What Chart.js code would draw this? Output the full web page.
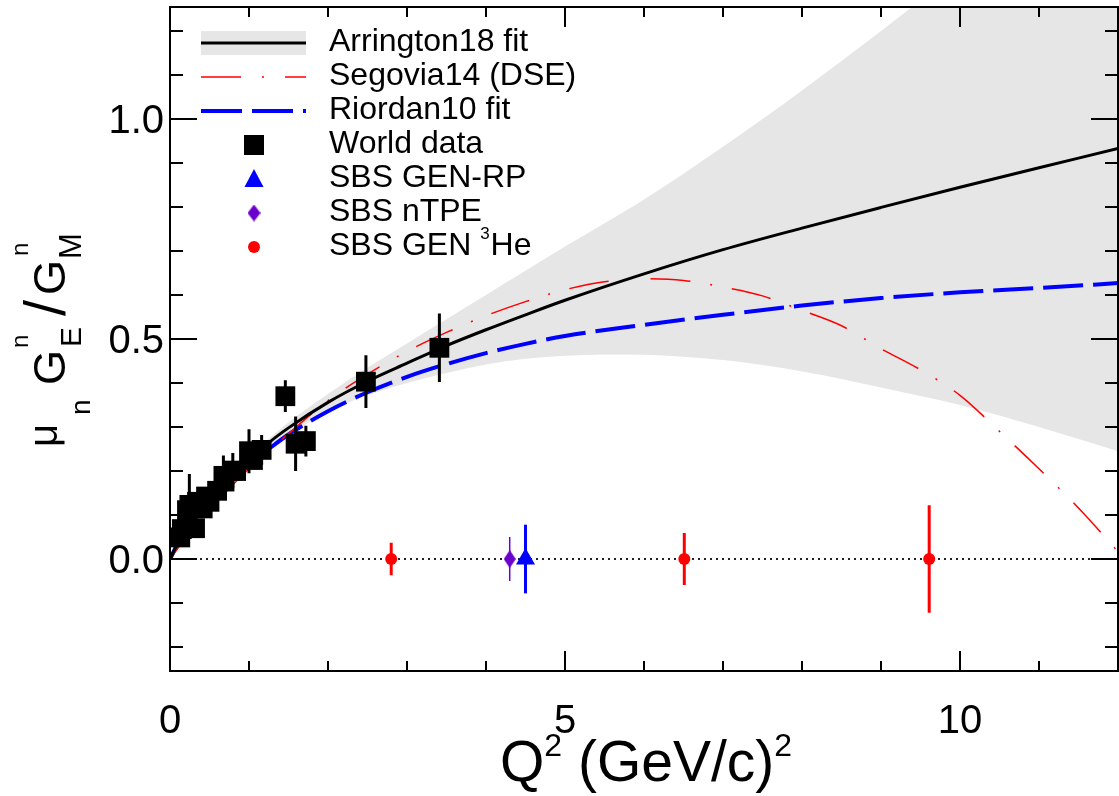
<!DOCTYPE html>
<html>
<head>
<meta charset="utf-8">
<script src="https://cdn.jsdelivr.net/npm/chart.js@4/dist/chart.umd.min.js"></script>
<style>
  html, body { margin: 0; padding: 0; background: #fff; }
  #wrap { width: 1119px; height: 796px; }
</style>
</head>
<body>
<div id="wrap"><canvas id="chart-ratio"></canvas></div>
<script>
/* ── Data ─────────────────────────────────────────────────── */
const fitQ2     = [0, 0.1, 0.25, 0.5, 0.75, 1, 1.25, 1.5, 2, 2.5, 3, 3.5, 4, 4.5, 5, 6, 7, 8, 9, 10, 11, 12];
const arrington = [0, 0.035, 0.075, 0.13, 0.18, 0.222, 0.264, 0.298, 0.356, 0.404, 0.445, 0.485, 0.521, 0.555, 0.588, 0.648, 0.703, 0.752, 0.799, 0.845, 0.889, 0.933];
const riordan   = [0, 0.035, 0.075, 0.128, 0.175, 0.215, 0.25, 0.283, 0.336, 0.379, 0.414, 0.443, 0.468, 0.489, 0.507, 0.532, 0.555, 0.576, 0.593, 0.606, 0.616, 0.627];

const bandQ2 = [0, 0.5, 1, 1.5, 2, 2.5, 3, 3.5, 4, 4.5, 5, 5.5, 6, 7, 8, 9, 10, 11, 12];
const bandHi = [0, 0.135, 0.232, 0.31, 0.375, 0.435, 0.49, 0.545, 0.6, 0.655, 0.71, 0.763, 0.817, 0.937, 1.065, 1.2, 1.34, 1.485, 1.635];
const bandLo = [0, 0.125, 0.212, 0.28, 0.335, 0.372, 0.4, 0.423, 0.442, 0.455, 0.462, 0.465, 0.464, 0.452, 0.426, 0.39, 0.35, 0.3, 0.245];

const segoviaQ2 = [0, 0.25, 0.5, 0.75, 1, 1.25, 1.5, 2, 2.5, 3, 3.5, 4, 4.5, 5, 5.5, 6, 6.5, 7, 7.5, 8, 8.5, 9, 9.5, 10, 10.5, 11, 11.5, 12];
const segovia   = [0, 0.06, 0.11, 0.16, 0.205, 0.245, 0.285, 0.36, 0.42, 0.472, 0.515, 0.553, 0.585, 0.612, 0.63, 0.637, 0.633, 0.618, 0.598, 0.565, 0.53, 0.478, 0.43, 0.372, 0.29, 0.205, 0.116, 0.017];

const worldQ2    = [0.13, 0.15, 0.215, 0.245, 0.317, 0.342, 0.414, 0.456, 0.50, 0.596, 0.676, 0.69, 0.795, 0.837, 1.00, 1.05, 1.16, 1.46, 1.59, 1.72, 2.48, 3.41];
const worldRatio = [0.049, 0.068, 0.111, 0.123, 0.070, 0.130, 0.115, 0.142, 0.130, 0.155, 0.189, 0.176, 0.201, 0.200, 0.245, 0.225, 0.248, 0.370, 0.262, 0.268, 0.403, 0.480];
const worldErr   = [0.015, 0.015, 0.02, 0.07, 0.02, 0.02, 0.02, 0.02, 0.02, 0.02, 0.046, 0.02, 0.04, 0.02, 0.05, 0.02, 0.034, 0.036, 0.062, 0.035, 0.060, 0.078];

const genRpQ2 = [4.5],  genRpRatio = [0],  genRpErr = [0.078];
const ntpeQ2  = [4.3],  ntpeRatio  = [0],  ntpeErr  = [0.05];
const he3Q2   = [2.8, 6.51, 9.61], he3Ratio = [0, 0, 0], he3Err = [0.037, 0.059, 0.122];

const zeroQ2 = [0, 12], zeroLine = [0, 0];

const xTicks = [0, 5, 10],     xTickLabels = ['0', '5', '10'];
const yTicks = [0, 0.5, 1.0],  yTickLabels = ['0.0', '0.5', '1.0'];

const legendLabels = ['Arrington18 fit', 'Segovia14 (DSE)', 'Riordan10 fit', 'World data', 'SBS GEN-RP', 'SBS nTPE', 'SBS GEN ^3He'];

/* ── Helpers ──────────────────────────────────────────────── */
const FONT = '"Liberation Sans", Arial, Helvetica, sans-serif';
const COLORS = { black: '#000000', red: '#ff0000', blue: '#0000ff', purple: '#6a00cc', band: '#e6e6e6' };

const pts = (xs, ys) => xs.map((x, i) => ({ x, y: ys[i] }));

function errorSegments(xs, ys, es) {
  const out = [];
  xs.forEach((x, i) => {
    out.push({ x, y: ys[i] - es[i] }, { x, y: ys[i] + es[i] }, { x, y: null });
  });
  return out;
}

function diamondCanvas(w, h, color) {
  const c = document.createElement('canvas');
  c.width = w; c.height = h;
  const g = c.getContext('2d');
  g.fillStyle = color;
  g.beginPath();
  g.moveTo(w / 2, 0); g.lineTo(w, h / 2); g.lineTo(w / 2, h); g.lineTo(0, h / 2);
  g.closePath(); g.fill();
  return c;
}
const diamond = diamondCanvas(12, 18, COLORS.purple);

const line = (label, data, color, width, dash, order) => ({
  label, data, showLine: true, borderColor: color, borderWidth: width, borderDash: dash,
  pointRadius: 0, fill: false, cubicInterpolationMode: 'monotone', order,
});
const errBars = (data, color, width) => ({
  label: 'err', data, showLine: true, spanGaps: false, borderColor: color,
  borderWidth: width, pointRadius: 0, fill: false, order: 3,
});

/* ── Plugins: frame + ticks + labels, axis titles, legend ─── */
const framePlugin = {
  id: 'frame',
  afterDatasetsDraw(chart) {
    const { ctx, chartArea: a, scales: { x, y } } = chart;
    ctx.save();
    ctx.strokeStyle = '#000';
    ctx.lineWidth = 2;
    ctx.beginPath();
    for (let q = Math.ceil(x.min); q <= x.max; q++) {
      const px = x.getPixelForValue(q);
      const len = q % 5 === 0 ? 20 : 10;
      ctx.moveTo(px, a.bottom); ctx.lineTo(px, a.bottom - len);
      ctx.moveTo(px, a.top);    ctx.lineTo(px, a.top + len);
    }
    for (let k = Math.ceil(y.min * 10); k <= Math.floor(y.max * 10); k++) {
      const py = y.getPixelForValue(k / 10);
      const len = k % 5 === 0 ? 27 : 13;
      ctx.moveTo(a.left, py);  ctx.lineTo(a.left + len, py);
      ctx.moveTo(a.right, py); ctx.lineTo(a.right - len, py);
    }
    ctx.stroke();
    ctx.strokeRect(a.left, a.top, a.right - a.left, a.bottom - a.top);

    // tick labels
    ctx.fillStyle = '#000';
    ctx.font = `40px ${FONT}`;
    ctx.textAlign = 'center';
    ctx.textBaseline = 'alphabetic';
    xTicks.forEach((v, i) => ctx.fillText(xTickLabels[i], x.getPixelForValue(v), a.bottom + 62));
    ctx.textAlign = 'right';
    yTicks.forEach((v, i) => ctx.fillText(yTickLabels[i], a.left - 6, y.getPixelForValue(v) + 14));
    ctx.restore();
  },
};

const titlePlugin = {
  id: 'titles',
  afterDraw(chart) {
    const { ctx, chartArea: a } = chart;
    ctx.save();
    ctx.fillStyle = '#000';
    ctx.textBaseline = 'alphabetic';
    ctx.textAlign = 'left';

    // x title: Q^2 (GeV/c)^2
    const S = 57;
    const parts = [
      { t: 'Q', size: S, dy: 0 },
      { t: '2', size: 32, dy: -25 },
      { t: ' (GeV/c)', size: S, dy: 0 },
      { t: '2', size: 32, dy: -25 },
    ];
    let total = 0;
    parts.forEach(p => { ctx.font = `${p.size}px ${FONT}`; p.w = ctx.measureText(p.t).width; total += p.w; });
    let cx = (a.left + a.right) / 2 - total / 2 + 2;
    const base = 781;
    parts.forEach(p => { ctx.font = `${p.size}px ${FONT}`; ctx.fillText(p.t, cx, base + p.dy); cx += p.w; });

    // y title: mu_n G^n_E / G^n_M  (rotated, reads bottom to top)
    ctx.translate(65, 447);
    ctx.rotate(-Math.PI / 2);
    const pieces = [
      { t: 'μ', lx: 0,   ly: -8,  size: 40 },
      { t: 'n', lx: 32,  ly: 25,  size: 28 },
      { t: 'G', lx: 62,  ly: 0,   size: 45 },
      { t: 'n', lx: 99,  ly: -37, size: 24 },
      { t: 'E', lx: 100, ly: 16,  size: 30 },
      { t: '/', lx: 131, ly: 0,   size: 58 },
      { t: 'G', lx: 152, ly: 0,   size: 45 },
      { t: 'n', lx: 191, ly: -37, size: 24 },
      { t: 'M', lx: 188, ly: 16,  size: 31 },
    ];
    pieces.forEach(p => { ctx.font = `${p.size}px ${FONT}`; ctx.fillText(p.t, p.lx, p.ly); });
    ctx.restore();
  },
};

const legendPlugin = {
  id: 'rootLegend',
  afterDraw(chart) {
    const { ctx } = chart;
    const x0 = 201, x1 = 306, mx = 254, tx = 329;
    const rowY = i => 43 + i * 34;
    ctx.save();

    // Arrington: band + solid line
    ctx.fillStyle = COLORS.band;
    ctx.fillRect(x0, rowY(0) - 12, x1 - x0, 24);
    const seg = (i, color, width, dash) => {
      ctx.beginPath();
      ctx.setLineDash(dash);
      ctx.strokeStyle = color; ctx.lineWidth = width;
      ctx.moveTo(x0, rowY(i)); ctx.lineTo(x1, rowY(i));
      ctx.stroke();
    };
    seg(0, COLORS.black, 3, []);
    seg(1, COLORS.red, 1.5, [40, 21, 2, 21]);
    seg(2, COLORS.blue, 4, [41, 10]);
    ctx.setLineDash([]);

    // markers
    ctx.fillStyle = COLORS.black;
    ctx.fillRect(mx - 10, rowY(3) - 10, 20, 20);
    ctx.fillStyle = COLORS.blue;
    ctx.beginPath();
    ctx.moveTo(mx, rowY(4) - 10); ctx.lineTo(mx + 9.5, rowY(4) + 8); ctx.lineTo(mx - 9.5, rowY(4) + 8);
    ctx.closePath(); ctx.fill();
    ctx.drawImage(diamondCanvas(13, 17, COLORS.purple), mx - 6.5, rowY(5) - 8.5);
    ctx.fillStyle = COLORS.red;
    ctx.beginPath(); ctx.arc(mx, rowY(6), 6, 0, Math.PI * 2); ctx.fill();

    // labels
    ctx.fillStyle = '#000';
    ctx.textBaseline = 'alphabetic';
    legendLabels.forEach((lab, i) => {
      const b = rowY(i) + 8;
      const m = lab.match(/^(.*)\^(\d)(.*)$/);
      ctx.font = `32px ${FONT}`;
      if (!m) { ctx.fillText(lab, tx, b); return; }
      ctx.fillText(m[1], tx, b);
      let cx = tx + ctx.measureText(m[1]).width;
      ctx.font = `17px ${FONT}`;
      ctx.fillText(m[2], cx, b - 16);
      cx += ctx.measureText(m[2]).width + 1;
      ctx.font = `32px ${FONT}`;
      ctx.fillText(m[3], cx, b);
    });
    ctx.restore();
  },
};

/* ── Chart ────────────────────────────────────────────────── */
const datasets = [
  // markers (drawn on top)
  { label: 'World data', data: pts(worldQ2, worldRatio), pointStyle: 'rect', pointRadius: 14,
    backgroundColor: COLORS.black, borderWidth: 0, order: 1 },
  { label: 'SBS GEN-RP', data: pts(genRpQ2, genRpRatio), pointStyle: 'triangle', pointRadius: 11,
    backgroundColor: COLORS.blue, borderWidth: 0, order: 1 },
  { label: 'SBS nTPE', data: pts(ntpeQ2, ntpeRatio), pointStyle: diamond, pointRadius: 9,
    backgroundColor: COLORS.purple, borderWidth: 0, order: 1 },
  { label: 'SBS GEN 3He', data: pts(he3Q2, he3Ratio), pointStyle: 'circle', pointRadius: 6,
    backgroundColor: COLORS.red, borderWidth: 0, order: 1 },
  // error bars
  errBars(errorSegments(worldQ2, worldRatio, worldErr), COLORS.black, 3),
  errBars(errorSegments(genRpQ2, genRpRatio, genRpErr), COLORS.blue, 3),
  errBars(errorSegments(ntpeQ2, ntpeRatio, ntpeErr), COLORS.purple, 1.5),
  errBars(errorSegments(he3Q2, he3Ratio, he3Err), COLORS.red, 3),
  // curves
  line('Arrington18 fit', pts(fitQ2, arrington), COLORS.black, 3, [], 5),
  line('Segovia14 (DSE)', pts(segoviaQ2, segovia), COLORS.red, 1.5, [40, 20, 2, 20], 5),
  line('Riordan10 fit', pts(fitQ2, riordan), COLORS.blue, 4, [40, 10], 5),
  // zero reference line
  line('zero', pts(zeroQ2, zeroLine), '#222222', 2, [2, 4], 8),
  // uncertainty band
  { label: 'band-hi', data: pts(bandQ2, bandHi), showLine: true, borderWidth: 0, pointRadius: 0,
    backgroundColor: COLORS.band, borderColor: 'rgba(0,0,0,0)', fill: '+1',
    cubicInterpolationMode: 'monotone', order: 10 },
  { label: 'band-lo', data: pts(bandQ2, bandLo), showLine: true, borderWidth: 0, pointRadius: 0,
    borderColor: 'rgba(0,0,0,0)', fill: false, cubicInterpolationMode: 'monotone', order: 10 },
];

new Chart(document.getElementById('chart-ratio'), {
  type: 'scatter',
  data: { datasets },
  options: {
    responsive: true,
    maintainAspectRatio: false,
    animation: false,
    events: [],
    layout: { autoPadding: false, padding: { top: 7, right: 1, left: 0, bottom: 0 } },
    plugins: { legend: { display: false }, tooltip: { enabled: false } },
    scales: {
      x: {
        type: 'linear', min: 0, max: 12,
        grid: { display: false, drawTicks: false },
        border: { display: false },
        ticks: { display: false },
        afterFit: s => { s.height = 125; },
      },
      y: {
        type: 'linear', min: -0.2545, max: 1.2545,
        grid: { display: false, drawTicks: false },
        border: { display: false },
        ticks: { display: false },
        afterFit: s => { s.width = 170; },
      },
    },
  },
  plugins: [framePlugin, titlePlugin, legendPlugin],
});
</script>
</body>
</html>
